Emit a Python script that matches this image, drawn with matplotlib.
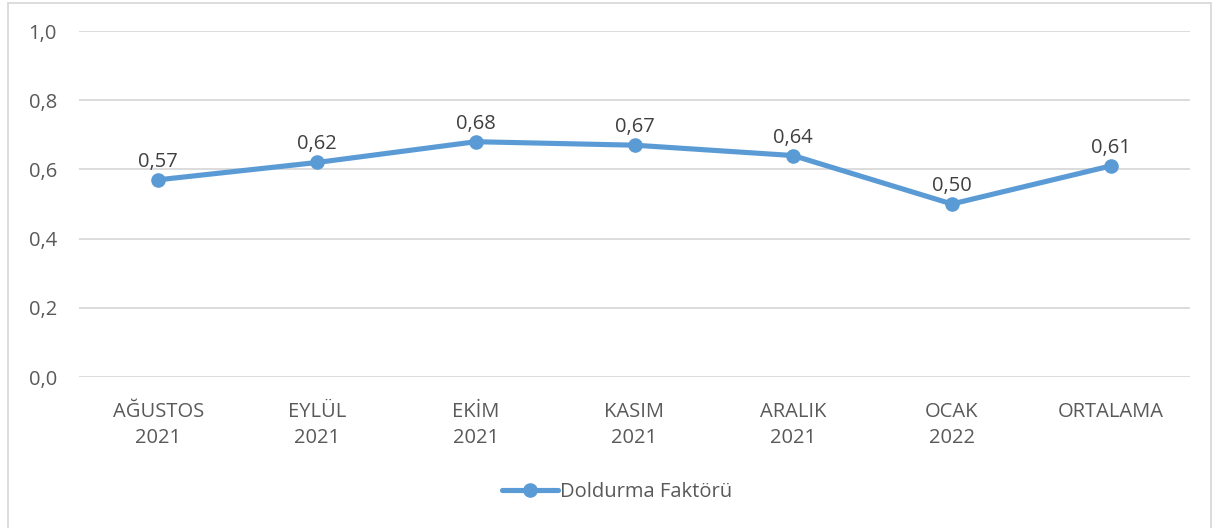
import matplotlib
matplotlib.use("Agg")
import matplotlib.pyplot as plt
from matplotlib.patches import Rectangle
from matplotlib.ticker import FuncFormatter

months = ["AĞUSTOS\n2021", "EYLÜL\n2021", "EKİM\n2021", "KASIM\n2021",
          "ARALIK\n2021", "OCAK\n2022", "ORTALAMA"]
fill_factor = [0.57, 0.62, 0.68, 0.67, 0.64, 0.50, 0.61]
y_ticks = [0.0, 0.2, 0.4, 0.6, 0.8, 1.0]

blue = "#5B9BD5"
grid_grey = "#D9D9D9"
tick_grey = "#595959"
label_grey = "#404040"
fs = 14.5

plt.rcParams['font.family'] = ['Open Sans', 'DejaVu Sans']

fig = plt.figure(figsize=(12.15, 5.28), dpi=100)
ax = fig.add_axes([79 / 1215, 151 / 528, 1111 / 1215, 346 / 528])

# outer chart frame
fig.patches.append(Rectangle((8 / 1215, -0.05), 1203 / 1215, 1.05 - 3 / 528,
                             transform=fig.transFigure, fill=False,
                             edgecolor=grid_grey, linewidth=1.3))

x = list(range(len(months)))
ax.plot(x, fill_factor, color=blue, lw=3.7, marker='o', ms=9.5,
        solid_capstyle='round', label="Doldurma Faktörü", zorder=3)

for xi, v in zip(x, fill_factor):
    ax.annotate(f"{v:.2f}".replace(".", ","), (xi, v), xytext=(0, 13),
                textcoords='offset points', ha='center', va='center',
                fontsize=fs, color=label_grey)

ax.set_xlim(-0.5, len(months) - 0.5)
ax.set_ylim(0, 1.0)
ax.set_yticks(y_ticks)
ax.yaxis.set_major_formatter(FuncFormatter(lambda v, p: f"{v:.1f}".replace(".", ",")))
ax.set_xticks(x)
ax.set_xticklabels(months, linespacing=1.42)
ax.tick_params(axis='y', length=0, pad=16, labelsize=fs, labelcolor=tick_grey)
ax.tick_params(axis='x', length=0, pad=18, labelsize=fs, labelcolor=tick_grey)

ax.grid(axis='y', color=grid_grey, lw=1.3)
ax.set_axisbelow(True)
for side in ax.spines.values():
    side.set_visible(False)

fig.legend(loc='center', bbox_to_anchor=(617 / 1215, 1 - 492 / 528), frameon=False,
           fontsize=fs, labelcolor=tick_grey, handlelength=2.8, handletextpad=0.1)

fig.savefig("out.png", dpi=100)
